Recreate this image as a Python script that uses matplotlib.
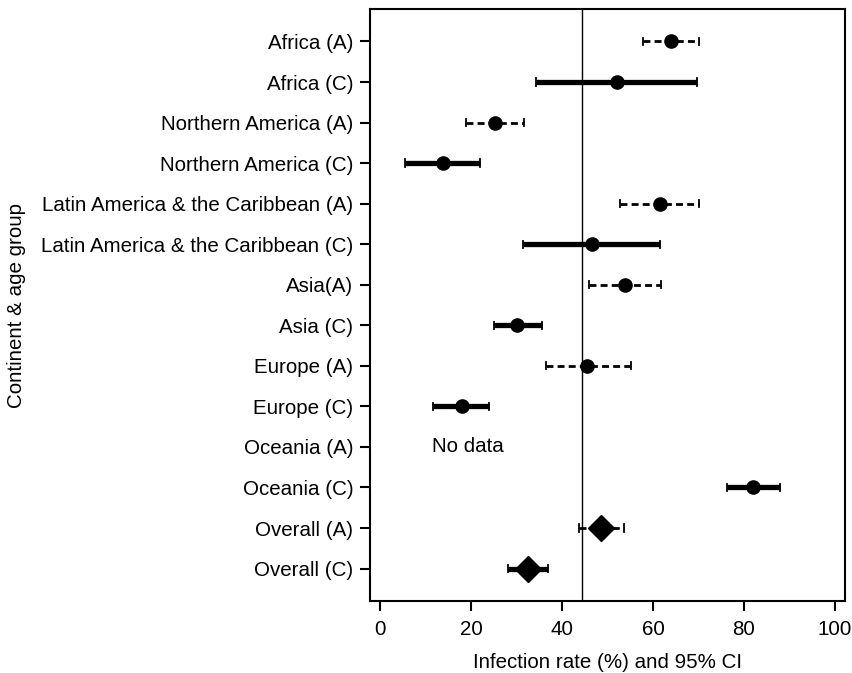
import matplotlib
matplotlib.use("Agg")
import matplotlib.pyplot as plt
import numpy as np

plt.rcParams['font.family'] = ['Liberation Sans', 'DejaVu Sans']

labels = ["Africa (A)", "Africa (C)", "Northern America (A)", "Northern America (C)",
          "Latin America & the Caribbean (A)", "Latin America & the Caribbean (C)",
          "Asia(A)", "Asia (C)", "Europe (A)", "Europe (C)", "Oceania (A)", "Oceania (C)",
          "Overall (A)", "Overall (C)"]
rate = [64.0, 52.0, 25.3, 13.9, 61.5, 46.5, 53.8, 30.0, 45.6, 18.0, np.nan, 82.0, 48.6, 32.6]
ci_low = [57.7, 34.2, 18.8, 5.5, 52.8, 31.5, 45.9, 25.1, 36.5, 11.7, np.nan, 76.2, 43.7, 28.2]
ci_high = [70.2, 69.7, 31.7, 22.0, 70.2, 61.5, 61.8, 35.5, 55.1, 24.0, np.nan, 87.9, 53.6, 37.0]
overall_rate = 44.3

fig = plt.figure(figsize=(8.53, 6.73), dpi=100)
ax = fig.add_axes([0.4338, 0.107, 0.5568, 0.8796])

y = np.arange(len(labels))
for i, lab in enumerate(labels):
    if np.isnan(rate[i]):
        continue
    adult = "(A)" in lab
    overall = lab.startswith("Overall")
    ls = (0, (2.5, 1.5)) if adult else "-"
    lw = 2.0 if adult else 3.8
    ax.plot([ci_low[i], ci_high[i]], [i, i], color="black", lw=lw, ls=ls, solid_capstyle="butt")
    for x in (ci_low[i], ci_high[i]):
        ax.plot([x, x], [i - 0.09, i + 0.09], color="black", lw=1.3)
    if overall:
        ax.plot(rate[i], i, marker="D", ms=13.5, color="black", ls="none")
    else:
        ax.plot(rate[i], i, marker="o", ms=9.5, color="black", ls="none")

ax.text(11.4, 10, "No data", fontsize=14.8, va="center", ha="left")
ax.axvline(overall_rate, color="black", lw=1.0)

ax.set_xlim(-2.2, 102.2)
ax.set_ylim(13.8, -0.8)
ax.set_yticks(y)
ax.set_yticklabels(labels)
ax.set_xticks(np.arange(0, 101, 20))
ax.tick_params(axis="both", labelsize=14.8, length=7, width=1.5, direction="out")
ax.tick_params(axis="y", pad=5)
ax.tick_params(axis="x", pad=7)
for s in ax.spines.values():
    s.set_linewidth(1.5)
ax.set_xlabel("Infection rate (%) and 95% CI", fontsize=14.8, labelpad=10)
ax.set_ylabel("Continent & age group", fontsize=14.8, labelpad=11)

fig.savefig("out.png", dpi=100)
